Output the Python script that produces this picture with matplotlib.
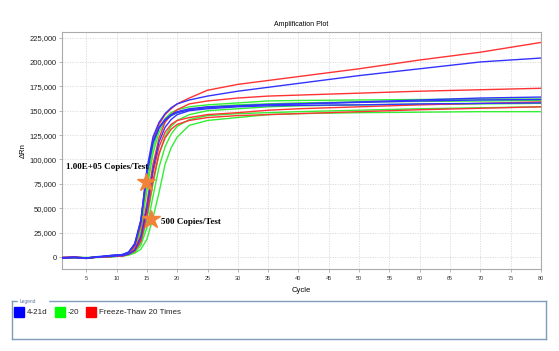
import numpy as np
import matplotlib
matplotlib.use( 'Agg' )
import matplotlib.pyplot as plt
from matplotlib.patches import Rectangle

plt.rcParams[ 'font.family' ] = [ 'Liberation Sans', 'DejaVu Sans' ]

cycles = [ 1, 3, 5, 7, 9, 11, 12, 13, 14, 15, 16, 17, 18, 19, 20, 22, 25, 30, 35, 40, 50, 60, 70, 80 ]

# delta Rn, in thousands
red_curves = [
	[ -1, -0.5, -1.5, 0, 1, 2, 4, 11, 33, 85, 120, 136, 146, 152, 157, 163, 171, 177, 181, 185, 193, 202, 210, 220 ],
	[ -0.5, 0, -1, 0, 0.5, 1.5, 3, 8, 22, 55, 95, 122, 138, 146, 151, 157, 160, 163, 165, 166, 168, 170, 171.5, 173 ],
	[ -1, -0.5, -1, 0, 0.5, 1.5, 3, 7, 18, 48, 86, 113, 128, 136, 140, 143, 146, 148, 150.5, 152, 154, 156, 157.5, 159 ],
	[ -0.5, 0, -1, 0, 0.5, 1, 3, 6, 16, 42, 78, 106, 122, 131, 136, 140, 143, 145, 146, 147, 149, 151, 152.5, 154 ],
]
blue_curves = [
	[ -1, -0.5, -1, 0, 1.5, 2.5, 5, 13, 36, 90, 123, 138, 147, 153, 157, 161, 165, 170, 174, 178, 186, 193, 200, 204 ],
	[ -1, -0.5, -1.5, 0, 1.5, 2.5, 5, 14, 38, 88, 118, 133, 141, 146, 149, 152, 154, 155, 156, 157, 159, 161, 163, 164 ],
	[ -0.5, 0, -1, 0, 0.5, 1.5, 3, 7, 20, 50, 90, 118, 133, 141, 146, 150, 152, 154, 155, 155.5, 156, 157, 157.5, 158 ],
	[ -1, -0.5, -1, 0.5, 1.5, 2.5, 5, 13, 37, 85, 117, 132, 140, 145, 148, 151, 153, 155, 156.5, 157, 158.5, 160, 161, 161.5 ],
]
green_curves = [
	[ -1, -0.5, -1, 0, 1, 2, 4, 10, 30, 75, 112, 132, 142, 148, 151, 154, 156, 158, 160, 160.5, 161, 161.5, 162, 162 ],
	[ -0.5, -0.5, -1, 0, 1, 2, 4, 9, 26, 68, 106, 128, 139, 145, 148, 151, 154, 156, 157, 158, 159, 159.5, 160, 160.5 ],
	[ -1, 0, -0.5, 0, 0.5, 1, 2.5, 6, 14, 38, 75, 105, 124, 134, 140, 146, 150, 152, 154, 155, 156, 156.5, 157, 157.5 ],
	[ -1, -0.5, -1, 0, 0.5, 1, 2.5, 5, 12, 30, 62, 92, 113, 126, 134, 141, 145, 147, 148, 149, 150.5, 152, 153, 154 ],
	[ -1.5, -1, -1, -0.5, 0, 1, 2, 4, 8, 18, 40, 66, 95, 112, 123, 135, 140, 143, 146, 147, 148, 148.5, 149, 149 ],
]

legend_labels = [ '4-21d', '-20', 'Freeze-Thaw 20 Times' ]
legend_colors = [ '#0000ff', '#00ff00', '#ff0000' ]

# star markers: ( cycle, delta Rn in thousands, label )
stars = [
	( 14.8, 77, '1.00E+05 Copies/Test' ),
	( 15.6, 39, '500 Copies/Test' ),
]

W, H = 559, 351
fig = plt.figure( figsize = ( W / 100, H / 100 ), dpi = 100 )
ax  = fig.add_axes( [ 62 / W, 1 - 269 / H, 479 / W, 237 / H ] )

x = np.array( cycles )
for curve in green_curves:
	ax.plot( x, np.array( curve ) * 1000, color = '#33ee33', lw = 1.0, zorder = 3 )
for curve in red_curves:
	ax.plot( x, np.array( curve ) * 1000, color = '#ff3333', lw = 1.0, zorder = 3 )
for curve in blue_curves:
	ax.plot( x, np.array( curve ) * 1000, color = '#3333ff', lw = 1.0, zorder = 4 )

for cx, cy, label in stars:
	ax.plot( [ cx ], [ cy * 1000 ], marker = '*', ms = 13.5, color = '#f0823a',
		mec = '#f0823a', zorder = 6 )

ax.text( 1.6, 92000, stars[ 0 ][ 2 ], family = 'Liberation Serif', weight = 'bold',
	fontsize = 6.5, va = 'center', ha = 'left', zorder = 7 )
ax.text( 17.4, 35500, stars[ 1 ][ 2 ], family = 'Liberation Serif', weight = 'bold',
	fontsize = 6.5, va = 'center', ha = 'left', zorder = 7 )

ax.set_xlim( 1, 80 )
ax.set_ylim( -12300, 230700 )
ax.set_xticks( np.arange( 5, 81, 5 ) )
ax.set_yticks( np.arange( 0, 225001, 25000 ) )
ax.yaxis.set_major_formatter( matplotlib.ticker.StrMethodFormatter( '{x:,.0f}' ) )
ax.tick_params( axis = 'x', labelsize = 4, length = 2, width = 0.5, color = '#999999', pad = 3,
	labelcolor = '#333333' )
ax.tick_params( axis = 'y', labelsize = 5.5, length = 2, width = 0.5, color = '#999999', pad = 2,
	labelcolor = '#222222' )
ax.grid( True, color = '#d8d8d8', lw = 0.6, ls = ( 0, ( 1.5, 1.5 ) ) )
ax.set_axisbelow( True )
for side in [ 'left', 'bottom', 'right', 'top' ]:
	ax.spines[ side ].set_color( '#aaaaaa' )
	ax.spines[ side ].set_linewidth( 0.8 )

ax.set_title( 'Amplification Plot', fontsize = 5, pad = 4 )
ax.set_xlabel( 'Cycle', fontsize = 5.5, labelpad = 4 )
ax.set_ylabel( 'ΔRn', fontsize = 5.5, labelpad = 2 )

# legend panel
lax = fig.add_axes( [ 12 / W, 1 - 339 / H, 534 / W, 38 / H ] )
lax.set_xlim( 0, 534 )
lax.set_ylim( 38, 0 )
lax.set_xticks( [] )
lax.set_yticks( [] )
for side in lax.spines:
	lax.spines[ side ].set_color( '#7f9db9' )
	lax.spines[ side ].set_linewidth( 1.0 )
lax.add_patch( Rectangle( ( 6, -2 ), 30, 4, color = 'white', clip_on = False, zorder = 3 ) )
lax.text( 8, 0, 'Legend', fontsize = 3.5, color = '#5a78a0', va = 'center', zorder = 4 )

pos = [ 2, 43, 74 ]
for px, label, color in zip( pos, legend_labels, legend_colors ):
	lax.add_patch( Rectangle( ( px, 6 ), 10, 10, color = color ) )
	lax.text( px + 13, 11.5, label, fontsize = 5.8, va = 'center', color = '#222222' )

plt.savefig( 'out.png', dpi = 100 )
